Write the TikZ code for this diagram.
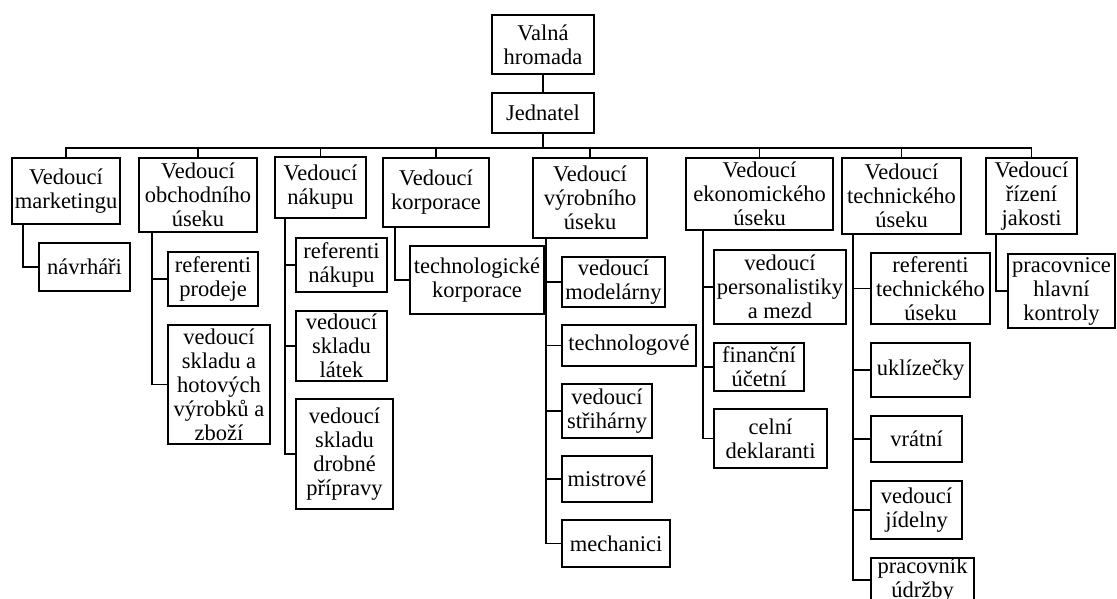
\documentclass[tikz,border=0pt]{standalone}
\usepackage{fontspec}
\setmainfont{Liberation Serif}
\tikzset{
  obox/.style={draw=black,line width=1.6pt,inner sep=0pt,outer sep=0pt,align=center,
    font=\fontsize{22.5}{24}\selectfont},
  conn/.style={draw=black,line width=1.6pt}
}
\newcommand\orgbox[6]{\node[obox,minimum width={#4-#2},minimum height={#5-#3}] (#1) at ({(#2+#4)/2},{(#3+#5)/2}) {#6};}
\begin{document}
\begin{tikzpicture}[x=1pt,y=-1pt]
\useasboundingbox[fill=white] (0,0) rectangle (1117,599);
\coordinate (bus) at (0,148);
% top
\orgbox{val}{492}{15}{594}{74}{Valná\\hromada}
\orgbox{jed}{492}{93}{594}{133}{Jednatel}
% heads
\orgbox{mkt}{12}{158}{120}{224}{Vedoucí\\marketingu}
\orgbox{obc}{139}{158}{257}{232}{Vedoucí\\obchodního\\úseku}
\orgbox{nak}{275}{157}{366}{218}{Vedoucí\\nákupu}
\orgbox{kor}{383}{158}{489}{227}{Vedoucí\\korporace}
\orgbox{vyr}{533}{158}{647}{238}{Vedoucí\\výrobního\\úseku}
\orgbox{eko}{686}{158}{833}{230}{Vedoucí\\ekonomického\\úseku}
\orgbox{tec}{842}{158}{961}{234}{Vedoucí\\technického\\úseku}
\orgbox{riz}{986}{158}{1077}{234}{Vedoucí\\řízení\\jakosti}
% children
\orgbox{navr}{39}{243}{130}{291}{návrháři}
\orgbox{refp}{168}{252}{258}{306}{referenti\\prodeje}
\orgbox{skhv}{168}{325}{270}{444}{vedoucí\\skladu a\\hotových\\výrobků a\\zboží}
\orgbox{refn}{296}{238}{387}{292}{referenti\\nákupu}
\orgbox{skl}{296}{311}{387}{381}{vedoucí\\skladu\\látek}
\orgbox{skdp}{296}{399}{393}{509}{vedoucí\\skladu\\drobné\\přípravy}
\orgbox{tkor}{410}{246}{544}{314}{technologické\\korporace}
\orgbox{mod}{562}{257}{665}{307}{vedoucí\\modelárny}
\orgbox{tech}{562}{325}{696}{366}{technologové}
\orgbox{str}{562}{384}{652}{438}{vedoucí\\střihárny}
\orgbox{mis}{562}{456}{652}{502}{mistrové}
\orgbox{mech}{562}{520}{670}{567}{mechanici}
\orgbox{pers}{714}{250}{846}{324}{vedoucí\\personalistiky\\a mezd}
\orgbox{fin}{714}{343}{804}{391}{finanční\\účetní}
\orgbox{cel}{714}{409}{827}{468}{celní\\deklaranti}
\orgbox{reft}{871}{253}{990}{324}{referenti\\technického\\úseku}
\orgbox{ukl}{871}{343}{970}{397}{uklízečky}
\orgbox{vrat}{871}{416}{962}{462}{vrátní}
\orgbox{jid}{871}{481}{962}{539}{vedoucí\\jídelny}
\orgbox{udr}{871}{558}{974}{602}{pracovník\\údržby}
\orgbox{kon}{1008}{254}{1115}{328}{pracovnice\\hlavní\\kontroly}
% top connectors
\draw[conn] (val) -- (jed);
\draw[conn] (jed.south) -- (jed.south |- bus);
\draw[conn] (mkt.north) -- (mkt.north |- bus) -- (riz.north |- bus) -- (riz.north);
\foreach \n in {obc,nak,kor,vyr,eko,tec}{\draw[conn] (\n.north) -- (\n.north |- bus);}
% child connectors
\draw[conn] ([xshift=11pt]mkt.south west) |- (navr.west);
\foreach \c in {refp,skhv}{\draw[conn] ([xshift=13pt]obc.south west) |- (\c.west);}
\foreach \c in {refn,skl,skdp}{\draw[conn] ([xshift=10pt]nak.south west) |- (\c.west);}
\draw[conn] ([xshift=12pt]kor.south west) |- (tkor.west);
\foreach \c in {mod,tech,str,mis,mech}{\draw[conn] ([xshift=13pt]vyr.south west) |- (\c.west);}
\foreach \c in {pers,fin,cel}{\draw[conn] ([xshift=17pt]eko.south west) |- (\c.west);}
\foreach \c in {reft,ukl,vrat,jid,udr}{\draw[conn] ([xshift=11pt]tec.south west) |- (\c.west);}
\draw[conn] ([xshift=10pt]riz.south west) |- (kon.west);
\end{tikzpicture}
\end{document}
